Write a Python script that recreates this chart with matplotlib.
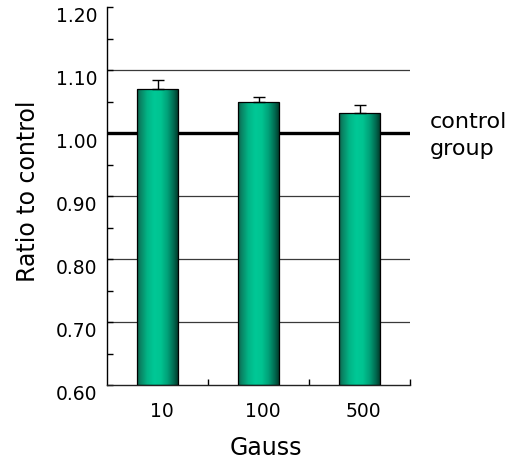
import numpy as np
import matplotlib
matplotlib.use("Agg")
import matplotlib.pyplot as plt
from matplotlib.colors import LinearSegmentedColormap
from matplotlib.transforms import ScaledTranslation

categories = ["10", "100", "500"]
values = [1.07, 1.049, 1.031]
errors = [0.014, 0.008, 0.013]
yticks = [0.60, 0.70, 0.80, 0.90, 1.00, 1.10, 1.20]
ytick_labels = ["0.60", "0.70", "0.80", "0.90", "1.00", "1.10", "1.20"]
control_value = 1.00

W, H, DPI = 514, 461, 100
fig = plt.figure(figsize=(W / DPI, H / DPI), dpi=DPI)
ax_l, ax_r, ax_t, ax_b = 107, 410, 7, 385
ax = fig.add_axes([ax_l / W, 1 - ax_b / H, (ax_r - ax_l) / W, (ax_b - ax_t) / H])

font = "DejaVu Sans"
x = np.arange(len(categories))
ax.set_xlim(-0.5, len(categories) - 0.5)
ax.set_ylim(0.60, 1.20)

# grid lines
for yv in [0.70, 0.80, 0.90, 1.10]:
    ax.axhline(yv, color="#3a3a3a", lw=0.9, zorder=1)
ax.axhline(control_value, color="black", lw=2.4, zorder=1)

bars = ax.bar(x, [v - 0.60 for v in values], bottom=0.60, width=0.4,
              color="none", edgecolor="black", linewidth=0.9, zorder=3)

cmap = LinearSegmentedColormap.from_list("cyl", [
    (0.0, "#0f5c47"), (0.08, "#0a8263"), (0.25, "#02b486"),
    (0.42, "#00c896"), (0.58, "#00c491"), (0.75, "#00a078"),
    (0.9, "#006a50"), (1.0, "#003d2d")])
grad = np.linspace(0, 1, 256).reshape(1, -1)
for b in bars:
    x0, y0 = b.get_x(), b.get_y()
    w, h = b.get_width(), b.get_height()
    im = ax.imshow(grad, cmap=cmap, aspect="auto", extent=[x0, x0 + w, y0, y0 + h],
                   zorder=2, interpolation="bilinear")
    im.set_clip_path(b)
ax.set_xlim(-0.5, len(categories) - 0.5)
ax.set_ylim(0.60, 1.20)

ax.errorbar(x, values, yerr=[[0] * len(values), errors], fmt="none",
            ecolor="black", elinewidth=1.0, capsize=4.5, capthick=1.0, zorder=4)

# spines
for s in ["top", "right"]:
    ax.spines[s].set_visible(False)
ax.spines["left"].set_linewidth(1.0)
ax.spines["bottom"].set_linewidth(1.0)
ax.spines["bottom"].set_color("#222222")

# y ticks
ax.set_yticks(yticks)
ax.set_yticklabels(ytick_labels, fontsize=13.5, family=font)
ax.set_yticks(np.arange(0.65, 1.20, 0.1), minor=True)
ax.tick_params(axis="y", which="major", direction="in", length=4, width=1, pad=7)
ax.tick_params(axis="y", which="minor", direction="in", length=4, width=1)
off_y = ScaledTranslation(0, -7 / DPI, fig.dpi_scale_trans)
for lab in ax.get_yticklabels():
    lab.set_transform(lab.get_transform() + off_y)

# x ticks
ax.set_xticks(x)
ax.set_xticklabels(categories, fontsize=13.5, family=font)
ax.set_xticks([0.5, 1.5, 2.5], minor=True)
ax.tick_params(axis="x", which="major", length=0, pad=12)
ax.tick_params(axis="x", which="minor", direction="in", length=4, width=1)
off_x = ScaledTranslation(4 / DPI, 0, fig.dpi_scale_trans)
for lab in ax.get_xticklabels():
    lab.set_transform(lab.get_transform() + off_x)

fig.text(266 / W, 1 - 448 / H, "Gauss", fontsize=17, family=font, ha="center", va="center")
fig.text(28 / W, 1 - 191 / H, "Ratio to control", fontsize=17, family=font,
         ha="center", va="center", rotation=90)
fig.text(430 / W, 1 - 128 / H, "control", fontsize=16, family=font, ha="left", va="baseline")
fig.text(430 / W, 1 - 155 / H, "group", fontsize=16, family=font, ha="left", va="baseline")

fig.savefig("out.png", dpi=DPI)
